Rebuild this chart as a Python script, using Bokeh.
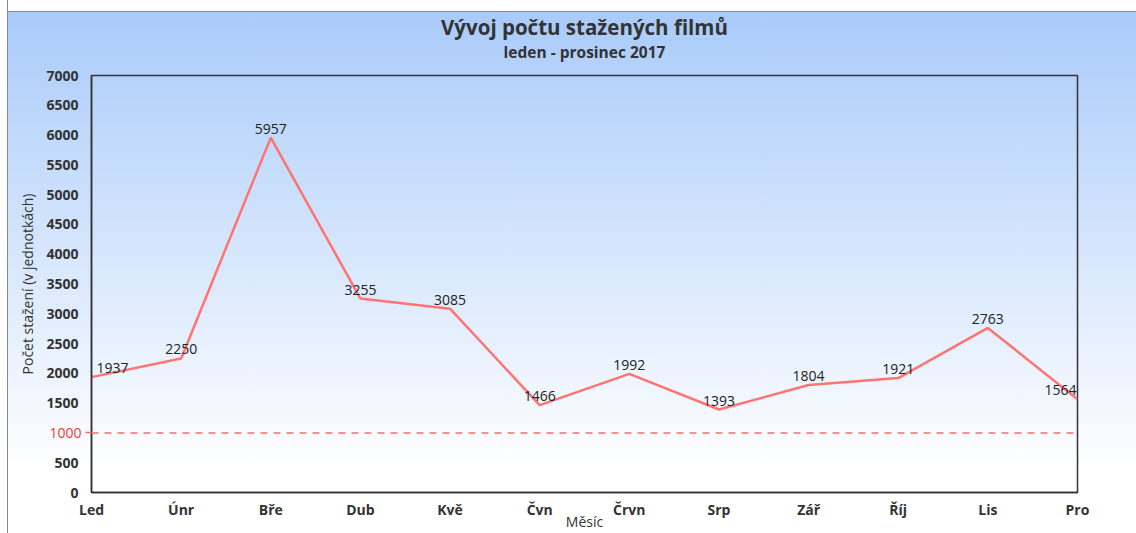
from bokeh.plotting import figure
from bokeh.models import FixedTicker, Span, Title, Range1d, LinearAxis
from bokeh.embed import file_html
from bokeh.resources import INLINE
from bokeh.core.properties import value

# ---- data ----
months = ["Led", "Únr", "Bře", "Dub", "Kvě", "Čvn", "Črvn", "Srp", "Zář", "Říj", "Lis", "Pro"]
downloads = [1937, 2250, 5957, 3255, 3085, 1466, 1992, 1393, 1804, 1921, 2763, 1564]
y_ticks = list(range(0, 7001, 500))
threshold = 1000
title_text = "Vývoj počtu stažených filmů"
subtitle_text = "leden - prosinec 2017"
x_label = "Měsíc"
y_label = "Počet stažení (v jednotkách)"

FONT = "Open Sans"
TXT = "#333333"
LINE = "#ff7373"
RED_TXT = "#ee3b3b"
RED_LINE = "#f07070"

xs = list(range(len(months)))
labels = [str(v) for v in downloads]
dx = [0] * len(months)
dx[0] = 21
dx[-1] = -17

p = figure(width=1136, height=533, x_range=Range1d(0, len(months) - 1), y_range=Range1d(0, 7000),
           output_backend="svg", toolbar_location=None, title=None,
           min_border_left=91, min_border_right=59, min_border_top=75, min_border_bottom=41)

p.styles = {
    "background": ("linear-gradient(to right, #ffffff 0px, #ffffff 7px, #8a8a8a 7px, #8a8a8a 8px, rgba(255,255,255,0) 8px), "
                   "linear-gradient(to bottom, #ffffff 0px, #ffffff 11px, #8a8a8a 11px, #8a8a8a 12px, #a9cbfa 12px, #ffffff 470px)"),
}
p.background_fill_color = None
p.border_fill_color = None
p.outline_line_color = "#333333"
p.outline_line_width = 1.5
p.xgrid.visible = False
p.ygrid.visible = False

sub = Title(text=subtitle_text, align="center", text_font=FONT, text_font_size="15.5px",
            text_font_style="bold", text_color=TXT, standoff=25)
p.add_layout(sub, "above")
main = Title(text=title_text, align="center", text_font=FONT, text_font_size="20.5px",
             text_font_style="bold", text_color=TXT, standoff=-29)
p.add_layout(main, "above")

p.add_layout(Span(location=threshold, dimension="width", line_color=RED_LINE,
                  line_dash="7 6", line_width=1.5))

p.line(xs, downloads, line_color=LINE, line_width=2.5)
p.text(xs, downloads, text=labels, x_offset=dx, y_offset=-9, text_align="center",
       text_baseline="alphabetic", text_font=value(FONT), text_font_size="14px", text_color="#222222")

# axes
main_y = p.yaxis[0]
p.xaxis.ticker = FixedTicker(ticks=xs)
p.xaxis.major_label_overrides = {i: m for i, m in enumerate(months)}
main_y.ticker = FixedTicker(ticks=y_ticks)
main_y.major_label_overrides = {threshold: ""}
for ax in (p.xaxis[0], main_y):
    ax.major_tick_out = 0
    ax.major_tick_in = 0
    ax.minor_tick_line_color = None
    ax.major_label_text_font = FONT
    ax.major_label_text_font_size = "14px"
    ax.major_label_text_font_style = "bold"
    ax.major_label_text_color = TXT
    ax.axis_label_text_font = FONT
    ax.axis_label_text_font_style = "normal"
    ax.axis_label_text_color = TXT
p.xaxis.axis_line_color = "#333333"
p.xaxis.axis_line_width = 1.5
p.xaxis.major_label_standoff = 7
p.xaxis.axis_label = x_label
p.xaxis.axis_label_standoff = -10
p.xaxis.axis_label_text_font_size = "14px"

# threshold axis (closest to the frame) shows the red 1000 label and tick
red_axis = LinearAxis(ticker=FixedTicker(ticks=[threshold]), major_tick_out=6, major_tick_in=0,
                      major_tick_line_color=RED_LINE, major_tick_line_width=1.5,
                      minor_tick_line_color=None, axis_line_color="#333333", axis_line_width=1.5,
                      major_label_standoff=4, major_label_text_font=FONT,
                      major_label_text_font_size="14px", major_label_text_color=RED_TXT)
main_y.axis_line_color = None
main_y.major_label_standoff = -32
main_y.axis_label = y_label
main_y.axis_label_standoff = 6
main_y.axis_label_text_font_size = "14px"
p.left = [red_axis, main_y]

open("out.html", "w").write(file_html(p, INLINE))
